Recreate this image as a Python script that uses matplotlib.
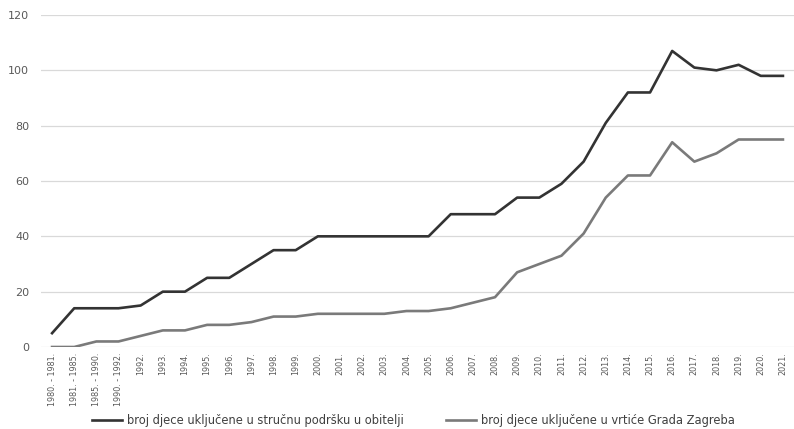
import numpy as np
import matplotlib
matplotlib.use('Agg')
import matplotlib.pyplot as plt

# categories (school years / years)
godine = ['1980. - 1981.', '1981. - 1985.', '1985. - 1990.', '1990. - 1992.'] + \
         [str(g) + '.' for g in range(1992, 2022)]

# broj djece - stručna podrška u obitelji
podrska = [5, 14, 14, 14, 15, 20, 20, 25, 25, 30, 35, 35, 40, 40, 40, 40, 40, 40,
           48, 48, 48, 54, 54, 59, 67, 81, 92, 92, 107, 101, 100, 102, 98, 98]
# broj djece - vrtići Grada Zagreba
vrtici = [0, 0, 2, 2, 4, 6, 6, 8, 8, 9, 11, 11, 12, 12, 12, 12, 13, 13,
          14, 16, 18, 27, 30, 33, 41, 54, 62, 62, 74, 67, 70, 75, 75, 75]

naziv1 = 'broj djece uključene u stručnu podršku u obitelji'
naziv2 = 'broj djece uključene u vrtiće Grada Zagreba'

fig = plt.figure(figsize=(7.94, 4.29), dpi=100)
ax = fig.add_axes([41/794, 1 - 347/429, 1 - 41/794, (347 - 15)/429])

x = np.arange(len(godine))
ax.plot(x, podrska, color='#333333', lw=1.9, label=naziv1)
ax.plot(x, vrtici, color='#7a7a7a', lw=1.9, label=naziv2)

ax.set_xlim(-0.5, len(godine) - 0.5)
ax.set_ylim(0, 120)
ax.set_yticks(range(0, 121, 20))
ax.grid(axis='y', color='#d9d9d9', lw=0.9)
ax.set_axisbelow(True)
for s in ax.spines.values():
    s.set_visible(False)

ax.set_xticks(x)
ax.set_xticklabels(godine, rotation=90, fontsize=5.8, color='#595959',
                   family=['Liberation Sans Narrow', 'DejaVu Sans'])
ax.tick_params(axis='x', length=0, pad=4)
ax.tick_params(axis='y', length=0, pad=8.5, labelsize=8, labelcolor='#595959')

fig.legend(loc='lower center', bbox_to_anchor=(0.521, -0.02), ncol=2, frameon=False,
           fontsize=8.3, handlelength=2.6, handletextpad=0.4, columnspacing=3.7,
           labelcolor='#404040')

fig.savefig('out.png', dpi=100)
